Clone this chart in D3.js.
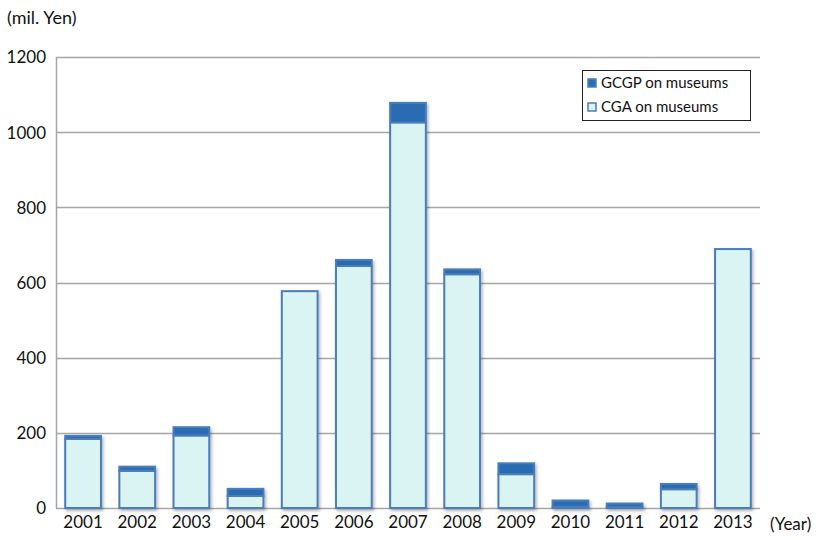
<!DOCTYPE html>
<html>
<head>
<meta charset="utf-8">
<script src="https://cdn.jsdelivr.net/npm/d3@7"></script>
<style>
  html, body { margin: 0; padding: 0; background: #fff; }
  svg { display: block; font-family: Lato, "Open Sans", sans-serif; }
</style>
</head>
<body>
<svg id="chart" width="831" height="540"></svg>
<script>
// Museum spending per fiscal year (million yen)
const years = ["2001","2002","2003","2004","2005","2006","2007","2008","2009","2010","2011","2012","2013"];
const cgaValues  = [184, 99, 193, 32, 577, 644, 1026, 622, 90, 3, 2, 50, 689];
const gcgpValues = [8, 11, 22, 19, 0, 16, 52, 13, 29, 17, 10, 14, 0];
const yTicks = [0, 200, 400, 600, 800, 1000, 1200];
const seriesNames = ["GCGP on museums", "CGA on museums"];

const colors = { cga: "#daf3f3", gcgp: "#2b6cb2", stroke: "#4a7ebb" };
const FONT = "Lato, 'Open Sans', sans-serif";

const svg = d3.select("#chart");
const margin = { left: 56, right: 71, top: 57, bottom: 32 };
const W = 831, H = 540;

const x = d3.scaleBand().domain(years)
  .range([margin.left, W - margin.right]).paddingInner(0.34).paddingOuter(0.17);
const y = d3.scaleLinear().domain([0, 1200]).range([H - margin.bottom, margin.top]);

// drop shadow for the bars
const defs = svg.append("defs");
const f = defs.append("filter").attr("id", "shadow").attr("x", "-20%").attr("y", "-20%")
  .attr("width", "150%").attr("height", "150%");
f.append("feDropShadow").attr("dx", 1.5).attr("dy", 2).attr("stdDeviation", 1.5)
  .attr("flood-color", "#000").attr("flood-opacity", 0.3);

// gridlines
svg.append("g").selectAll("line").data(yTicks).join("line")
  .attr("x1", margin.left).attr("x2", W - margin.right)
  .attr("y1", d => Math.round(y(d)) + 0.5).attr("y2", d => Math.round(y(d)) + 0.5)
  .attr("stroke", "#a6a6a6").attr("stroke-width", 1.5);

// left axis line
svg.append("line")
  .attr("x1", margin.left + 0.5).attr("x2", margin.left + 0.5)
  .attr("y1", y(1200)).attr("y2", y(0))
  .attr("stroke", "#a6a6a6").attr("stroke-width", 1.5);

// y axis
const yAxis = d3.axisLeft(y).tickValues(yTicks).tickFormat(d3.format("d")).tickSize(0).tickPadding(10);
const gy = svg.append("g").attr("transform", `translate(${margin.left},0)`).call(yAxis);
gy.select(".domain").remove();
gy.selectAll("text").attr("font-size", 17).attr("fill", "#111")
  .attr("font-family", FONT).attr("dy", "0.35em");

// x axis
const xAxis = d3.axisBottom(x).tickSize(0).tickPadding(8);
const gx = svg.append("g").attr("transform", `translate(0,${y(0)})`).call(xAxis);
gx.select(".domain").remove();
gx.selectAll("text").attr("font-size", 17).attr("fill", "#111")
  .attr("font-family", FONT);

// stacked bars
const stackData = years.map((yr, i) => ({ year: yr, cga: cgaValues[i], gcgp: gcgpValues[i] }));
const stacked = d3.stack().keys(["cga", "gcgp"])(stackData);

const bars = svg.append("g").attr("filter", "url(#shadow)");
stacked.forEach(layer => {
  bars.append("g").selectAll("rect").data(layer.filter(d => d[1] - d[0] > 0)).join("rect")
    .attr("x", d => x(d.data.year))
    .attr("width", x.bandwidth())
    .attr("y", d => y(d[1]))
    .attr("height", d => y(d[0]) - y(d[1]))
    .attr("fill", colors[layer.key])
    .attr("stroke", colors.stroke)
    .attr("stroke-width", 2);
});

// axis titles
svg.append("text").attr("x", 7).attr("y", 24).attr("font-size", 18).attr("fill", "#111")
  .attr("font-family", FONT).text("(mil. Yen)");
svg.append("text").attr("x", 770).attr("y", 530).attr("font-size", 17).attr("fill", "#111")
  .attr("font-family", FONT).text("(Year)");

// legend
const lg = svg.append("g");
lg.append("rect").attr("x", 582.5).attr("y", 70.5).attr("width", 168).attr("height", 50)
  .attr("fill", "#fff").attr("stroke", "#222").attr("stroke-width", 1);
const legendColors = [colors.gcgp, colors.cga];
seriesNames.forEach((name, i) => {
  const cy = 83 + i * 24;
  lg.append("rect").attr("x", 588).attr("y", cy - 4).attr("width", 8).attr("height", 8)
    .attr("fill", legendColors[i]).attr("stroke", colors.stroke).attr("stroke-width", 1.5);
  lg.append("text").attr("x", 601).attr("y", cy).attr("dy", "0.35em")
    .attr("font-size", 15).attr("font-family", FONT).attr("fill", "#111").text(name);
});
</script>
</body>
</html>
